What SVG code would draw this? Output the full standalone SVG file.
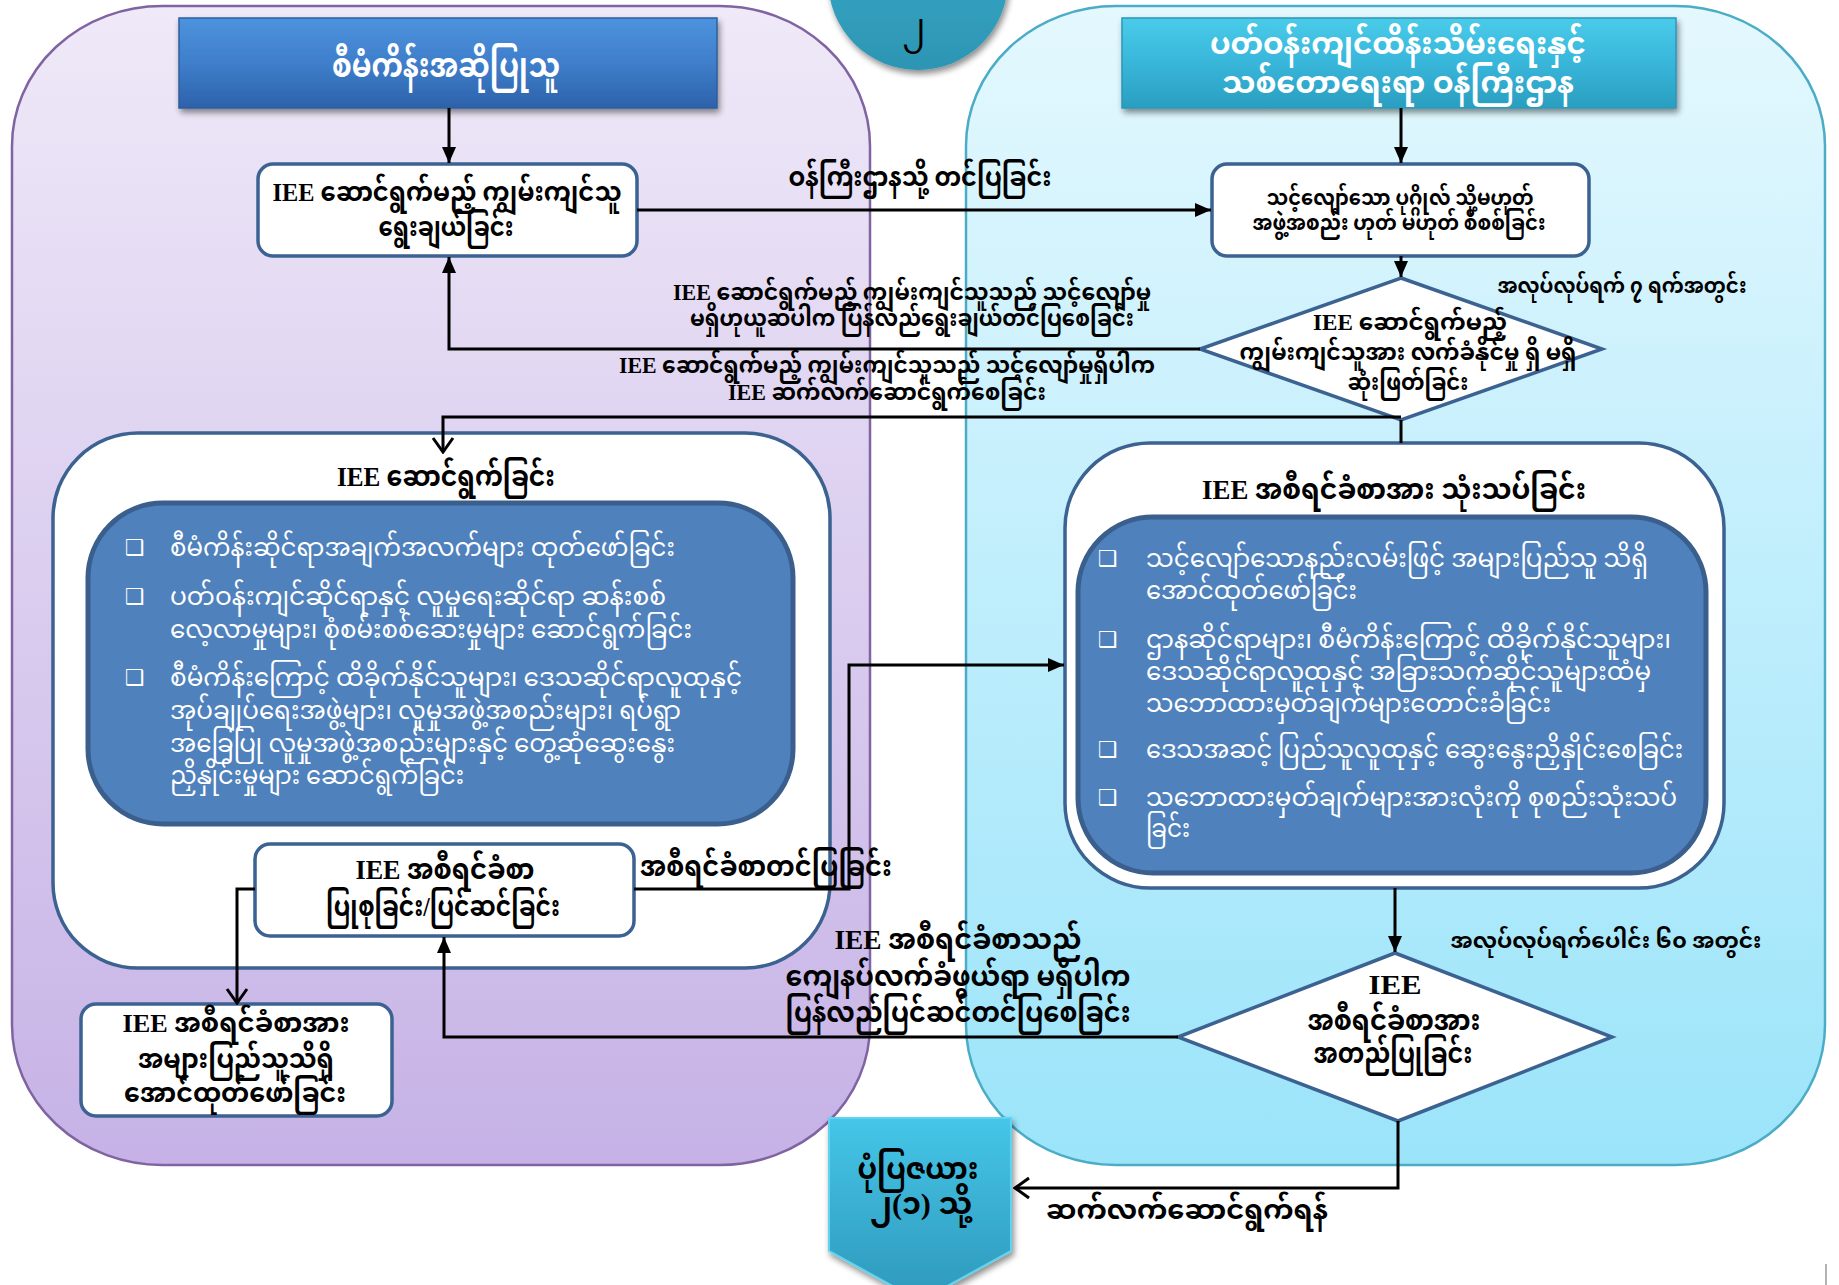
<svg xmlns="http://www.w3.org/2000/svg" width="1839" height="1285" viewBox="0 0 1839 1285">
<defs>
<linearGradient id="gPurple" x1="0" y1="0" x2="0" y2="1"><stop offset="0" stop-color="#EFE9F8"/><stop offset="1" stop-color="#C6B2E6"/></linearGradient>
<linearGradient id="gCyan" x1="0" y1="0" x2="0" y2="1"><stop offset="0" stop-color="#E4F8FE"/><stop offset="1" stop-color="#9BE4FA"/></linearGradient>
<linearGradient id="gHeadL" x1="0" y1="0" x2="0" y2="1"><stop offset="0" stop-color="#4D93DE"/><stop offset="0.5" stop-color="#3F7ECB"/><stop offset="1" stop-color="#2C62AA"/></linearGradient>
<linearGradient id="gHeadR" x1="0" y1="0" x2="0" y2="1"><stop offset="0" stop-color="#4ACBEA"/><stop offset="0.5" stop-color="#38B6DA"/><stop offset="1" stop-color="#2A9EC0"/></linearGradient>
<linearGradient id="gBadge" x1="0" y1="0" x2="0" y2="1"><stop offset="0" stop-color="#38ADCC"/><stop offset="1" stop-color="#2E95B4"/></linearGradient>
<linearGradient id="gPent" x1="0" y1="0" x2="0" y2="1"><stop offset="0" stop-color="#45C6E8"/><stop offset="1" stop-color="#2E98BB"/></linearGradient>
<filter id="shadow" x="-10%" y="-10%" width="130%" height="140%"><feGaussianBlur in="SourceAlpha" stdDeviation="3"/><feOffset dx="2" dy="4" result="b"/><feComponentTransfer><feFuncA type="linear" slope="0.45"/></feComponentTransfer><feMerge><feMergeNode/><feMergeNode in="SourceGraphic"/></feMerge></filter>
<marker id="arrF" markerUnits="userSpaceOnUse" markerWidth="16" markerHeight="14" refX="16" refY="7" orient="auto"><path d="M0,0 L16,7 L0,14 z" fill="#000"/></marker>
<marker id="arrO" markerUnits="userSpaceOnUse" markerWidth="18" markerHeight="24" refX="16" refY="12" orient="auto"><path d="M2,2 L16,12 L2,22" fill="none" stroke="#000" stroke-width="3"/></marker>
</defs>
<style>
.t{font-family:"Liberation Serif","Noto Sans Myanmar","Padauk","Myanmar Text",serif;fill:#000;text-anchor:middle;font-weight:bold}
.w{fill:#fff}
.n{font-weight:normal}
.b{font-family:"DejaVu Sans",sans-serif;fill:#fff;font-size:22px}
.bl{text-anchor:start}
.box{fill:#fff;stroke:#3B6291;stroke-width:3.5}
.inner{fill:#4F81BD;stroke:#3A5F8C;stroke-width:5}
.con{fill:none;stroke:#000;stroke-width:3}
</style>

<g id="lane-proponent">
<rect x="12" y="6" width="858" height="1159" rx="150" ry="140" fill="url(#gPurple)" stroke="#8064A2" stroke-width="2.5"/>
</g>
<g id="lane-ministry">
<rect x="966" y="6" width="859" height="1159" rx="150" ry="140" fill="url(#gCyan)" stroke="#4BACC6" stroke-width="2.5"/>
</g>

<g id="badge-top">
<circle cx="918" cy="-20" r="90" fill="url(#gBadge)" filter="url(#shadow)"/>
<text class="t n" x="914" y="38" font-size="34">၂</text>
</g>

<g id="header-proponent">
<rect x="179" y="18" width="538" height="90" fill="url(#gHeadL)" stroke="#2D5F9E" stroke-width="1.5" filter="url(#shadow)"/>
<text class="t w" x="446" y="77" font-size="34" textLength="228" lengthAdjust="spacingAndGlyphs">စီမံကိန်းအဆိုပြုသူ</text>
</g>

<g id="header-ministry">
<rect x="1122" y="18" width="554" height="90" fill="url(#gHeadR)" stroke="#2A97B8" stroke-width="1.5" filter="url(#shadow)"/>
<text class="t w" x="1398" y="54" font-size="30" textLength="376" lengthAdjust="spacingAndGlyphs">ပတ်ဝန်းကျင်ထိန်းသိမ်းရေးနှင့်</text>
<text class="t w" x="1398" y="93" font-size="30" textLength="352" lengthAdjust="spacingAndGlyphs">သစ်တောရေးရာ ဝန်ကြီးဌာန</text>
</g>

<g id="node-select-expert">
<rect class="box" x="258" y="164" width="379" height="92" rx="15"/>
<text class="t" x="447" y="201" font-size="26" textLength="349" lengthAdjust="spacingAndGlyphs">IEE ဆောင်ရွက်မည့် ကျွမ်းကျင်သူ</text>
<text class="t" x="446" y="236" font-size="26" textLength="135" lengthAdjust="spacingAndGlyphs">ရွေးချယ်ခြင်း</text>
</g>

<g id="node-check-qualified">
<rect class="box" x="1212" y="164" width="377" height="92" rx="15"/>
<text class="t" x="1400" y="205" font-size="22" textLength="267" lengthAdjust="spacingAndGlyphs">သင့်လျော်သော ပုဂ္ဂိုလ် သို့မဟုတ်</text>
<text class="t" x="1399" y="230" font-size="22" textLength="293" lengthAdjust="spacingAndGlyphs">အဖွဲ့အစည်း ဟုတ် မဟုတ် စိစစ်ခြင်း</text>
</g>

<g id="node-decide-acceptance">
<polygon points="1401,278 1602,349 1401,420 1200,349" fill="#fff" stroke="#3B6291" stroke-width="3.5"/>
<text class="t" x="1410" y="330" font-size="24" textLength="194" lengthAdjust="spacingAndGlyphs">IEE ဆောင်ရွက်မည့်</text>
<text class="t" x="1408" y="360" font-size="23" textLength="337" lengthAdjust="spacingAndGlyphs">ကျွမ်းကျင်သူအား လက်ခံနိုင်မှု ရှိ မရှိ</text>
<text class="t" x="1408" y="390" font-size="24" textLength="121" lengthAdjust="spacingAndGlyphs">ဆုံးဖြတ်ခြင်း</text>
</g>

<g id="node-conduct-iee">
<rect class="box" x="53" y="433" width="777" height="535" rx="85"/>
<text class="t" x="446" y="486" font-size="28" textLength="218" lengthAdjust="spacingAndGlyphs">IEE ဆောင်ရွက်ခြင်း</text>
<rect class="inner" x="88" y="503" width="705" height="321" rx="75"/>
<text class="b" x="125" y="555">❑</text>
<text class="t w n bl" x="170" y="556" font-size="25" textLength="505" lengthAdjust="spacingAndGlyphs">စီမံကိန်းဆိုင်ရာအချက်အလက်များ ထုတ်ဖော်ခြင်း</text>
<text class="b" x="125" y="604">❑</text>
<text class="t w n bl" x="170" y="605" font-size="25" textLength="496" lengthAdjust="spacingAndGlyphs">ပတ်ဝန်းကျင်ဆိုင်ရာနှင့် လူမှုရေးဆိုင်ရာ ဆန်းစစ်</text>
<text class="t w n bl" x="170" y="638" font-size="25" textLength="522" lengthAdjust="spacingAndGlyphs">လေ့လာမှုများ၊ စုံစမ်းစစ်ဆေးမှုများ ဆောင်ရွက်ခြင်း</text>
<text class="b" x="125" y="685">❑</text>
<text class="t w n bl" x="170" y="686" font-size="25" textLength="572" lengthAdjust="spacingAndGlyphs">စီမံကိန်းကြောင့် ထိခိုက်နိုင်သူများ၊ ဒေသဆိုင်ရာလူထုနှင့်</text>
<text class="t w n bl" x="170" y="719" font-size="25" textLength="511" lengthAdjust="spacingAndGlyphs">အုပ်ချုပ်ရေးအဖွဲ့များ၊ လူမှုအဖွဲ့အစည်းများ၊ ရပ်ရွာ</text>
<text class="t w n bl" x="170" y="752" font-size="25" textLength="505" lengthAdjust="spacingAndGlyphs">အခြေပြု လူမှုအဖွဲ့အစည်းများနှင့် တွေ့ဆုံဆွေးနွေး</text>
<text class="t w n bl" x="170" y="784" font-size="25" textLength="294" lengthAdjust="spacingAndGlyphs">ညှိနှိုင်းမှုများ ဆောင်ရွက်ခြင်း</text>
</g>

<g id="node-prepare-report">
<rect class="box" x="255" y="844" width="379" height="92" rx="15"/>
<text class="t" x="445" y="879" font-size="28" textLength="179" lengthAdjust="spacingAndGlyphs">IEE အစီရင်ခံစာ</text>
<text class="t" x="443" y="916" font-size="28" textLength="234" lengthAdjust="spacingAndGlyphs">ပြုစုခြင်း/ပြင်ဆင်ခြင်း</text>
</g>

<g id="node-disclose-report">
<rect class="box" x="81" y="1004" width="311" height="112" rx="15"/>
<text class="t" x="236" y="1032" font-size="26" textLength="227" lengthAdjust="spacingAndGlyphs">IEE အစီရင်ခံစာအား</text>
<text class="t" x="236" y="1068" font-size="26" textLength="196" lengthAdjust="spacingAndGlyphs">အများပြည်သူသိရှိ</text>
<text class="t" x="235" y="1102" font-size="26" textLength="222" lengthAdjust="spacingAndGlyphs">အောင်ထုတ်ဖော်ခြင်း</text>
</g>

<g id="node-review-report">
<rect class="box" x="1065" y="443" width="659" height="445" rx="85"/>
<text class="t" x="1394" y="499" font-size="28" textLength="384" lengthAdjust="spacingAndGlyphs">IEE အစီရင်ခံစာအား သုံးသပ်ခြင်း</text>
<rect class="inner" x="1078" y="517" width="628" height="356" rx="75"/>
<text class="b" x="1098" y="566">❑</text>
<text class="t w n bl" x="1146" y="567" font-size="25" textLength="502" lengthAdjust="spacingAndGlyphs">သင့်လျော်သောနည်းလမ်းဖြင့် အများပြည်သူ သိရှိ</text>
<text class="t w n bl" x="1146" y="599" font-size="25" textLength="211" lengthAdjust="spacingAndGlyphs">အောင်ထုတ်ဖော်ခြင်း</text>
<text class="b" x="1098" y="647">❑</text>
<text class="t w n bl" x="1146" y="648" font-size="25" textLength="525" lengthAdjust="spacingAndGlyphs">ဌာနဆိုင်ရာများ၊ စီမံကိန်းကြောင့် ထိခိုက်နိုင်သူများ၊</text>
<text class="t w n bl" x="1146" y="680" font-size="25" textLength="505" lengthAdjust="spacingAndGlyphs">ဒေသဆိုင်ရာလူထုနှင့် အခြားသက်ဆိုင်သူများထံမှ</text>
<text class="t w n bl" x="1146" y="712" font-size="25" textLength="405" lengthAdjust="spacingAndGlyphs">သဘောထားမှတ်ချက်များတောင်းခံခြင်း</text>
<text class="b" x="1098" y="757">❑</text>
<text class="t w n bl" x="1146" y="758" font-size="25" textLength="537" lengthAdjust="spacingAndGlyphs">ဒေသအဆင့် ပြည်သူလူထုနှင့် ဆွေးနွေးညှိနှိုင်းစေခြင်း</text>
<text class="b" x="1098" y="805">❑</text>
<text class="t w n bl" x="1146" y="806" font-size="25" textLength="531" lengthAdjust="spacingAndGlyphs">သဘောထားမှတ်ချက်များအားလုံးကို စုစည်းသုံးသပ်</text>
<text class="t w n bl" x="1146" y="837" font-size="25" textLength="44" lengthAdjust="spacingAndGlyphs">ခြင်း</text>
</g>

<g id="node-approve-report">
<polygon points="1395,953 1612,1037 1398,1121 1178,1037" fill="#fff" stroke="#3B6291" stroke-width="3.5"/>
<text class="t" x="1395" y="994" font-size="28" textLength="53" lengthAdjust="spacingAndGlyphs">IEE</text>
<text class="t" x="1394" y="1030" font-size="28" textLength="173" lengthAdjust="spacingAndGlyphs">အစီရင်ခံစာအား</text>
<text class="t" x="1393" y="1063" font-size="28" textLength="159" lengthAdjust="spacingAndGlyphs">အတည်ပြုခြင်း</text>
</g>

<g id="node-next-chart">
<polygon points="829,1118 1011,1118 1011,1251 920,1301 829,1251" fill="url(#gPent)" stroke="#5FD3F0" stroke-width="2" filter="url(#shadow)"/>
<text class="t" x="918" y="1179" font-size="30" textLength="121" lengthAdjust="spacingAndGlyphs">ပုံပြဇယား</text>
<text class="t" x="921" y="1214" font-size="30" textLength="102" lengthAdjust="spacingAndGlyphs">၂(၁) သို့</text>
</g>

<g id="connectors">
<path class="con" d="M449,108 V163" marker-end="url(#arrF)"/>
<path class="con" d="M1401,108 V163" marker-end="url(#arrF)"/>
<path class="con" d="M637,210 H1211" marker-end="url(#arrF)"/>
<path class="con" d="M1401,256 V277" marker-end="url(#arrF)"/>
<path class="con" d="M1200,349 H449 V257" marker-end="url(#arrF)"/>
<path class="con" d="M1401,420 V443"/>
<path class="con" d="M1401,417 H443 V452" marker-end="url(#arrO)"/>
<path class="con" d="M634,889 H849 V665 H1064" marker-end="url(#arrF)"/>
<path class="con" d="M255,889 H237 V1003" marker-end="url(#arrO)"/>
<path class="con" d="M1395,888 V952" marker-end="url(#arrF)"/>
<path class="con" d="M1178,1037 H444 V937" marker-end="url(#arrF)"/>
<path class="con" d="M1398,1121 V1188 H1015" marker-end="url(#arrO)"/>
<line x1="1826" y1="1264" x2="1826" y2="1285" stroke="#999" stroke-width="1.5"/>
</g>

<g id="connector-labels">
<text class="t" x="920" y="186" font-size="26" textLength="263" lengthAdjust="spacingAndGlyphs">ဝန်ကြီးဌာနသို့ တင်ပြခြင်း</text>
<text class="t" x="912" y="300" font-size="24" textLength="478" lengthAdjust="spacingAndGlyphs">IEE ဆောင်ရွက်မည့် ကျွမ်းကျင်သူသည် သင့်လျော်မှု</text>
<text class="t" x="912" y="326" font-size="24" textLength="444" lengthAdjust="spacingAndGlyphs">မရှိဟုယူဆပါက ပြန်လည်ရွေးချယ်တင်ပြစေခြင်း</text>
<text class="t" x="887" y="373" font-size="24" textLength="536" lengthAdjust="spacingAndGlyphs">IEE ဆောင်ရွက်မည့် ကျွမ်းကျင်သူသည် သင့်လျော်မှုရှိပါက</text>
<text class="t" x="887" y="400" font-size="24" textLength="318" lengthAdjust="spacingAndGlyphs">IEE ဆက်လက်ဆောင်ရွက်စေခြင်း</text>
<text class="t" x="1622" y="293" font-size="22" textLength="249" lengthAdjust="spacingAndGlyphs">အလုပ်လုပ်ရက် ၇ ရက်အတွင်း</text>
<text class="t" x="766" y="876" font-size="28" textLength="252" lengthAdjust="spacingAndGlyphs">အစီရင်ခံစာတင်ပြခြင်း</text>
<text class="t" x="958" y="949" font-size="28" textLength="247" lengthAdjust="spacingAndGlyphs">IEE အစီရင်ခံစာသည်</text>
<text class="t" x="958" y="986" font-size="28" textLength="345" lengthAdjust="spacingAndGlyphs">ကျေနပ်လက်ခံဖွယ်ရာ မရှိပါက</text>
<text class="t" x="958" y="1022" font-size="28" textLength="345" lengthAdjust="spacingAndGlyphs">ပြန်လည်ပြင်ဆင်တင်ပြစေခြင်း</text>
<text class="t" x="1606" y="948" font-size="22" textLength="311" lengthAdjust="spacingAndGlyphs">အလုပ်လုပ်ရက်ပေါင်း ၆၀ အတွင်း</text>
<text class="t" x="1187" y="1219" font-size="26" textLength="282" lengthAdjust="spacingAndGlyphs">ဆက်လက်ဆောင်ရွက်ရန်</text>
</g>
</svg>
